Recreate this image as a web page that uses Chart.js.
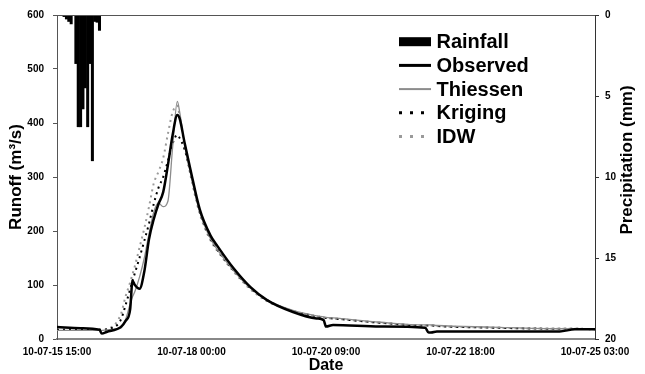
<!DOCTYPE html>
<html>
<head>
<meta charset="utf-8">
<script src="https://cdn.jsdelivr.net/npm/chart.js@4"></script>
<style>
  body { margin: 0; background: #fff; }
</style>
</head>
<body>
<canvas id="runoff_chart" width="645" height="374"></canvas>
<script>
// hours after 10-07-15 15:00
const xTickLabels = [
  "10-07-15 15:00",
  "10-07-18 00:00",
  "10-07-20 09:00",
  "10-07-22 18:00",
  "10-07-25 03:00",
];

const rainHours = [3, 4, 5, 6, 7, 8, 9, 10, 11, 12, 13, 14, 15, 16, 17, 18];
const rainMm = [0.1, 0.25, 0.4, 0.55, 0, 3.0, 6.9, 6.9, 5.8, 4.5, 6.9, 3.0, 9.0, 0.4, 0.45, 0.95];

const flowHours = [
  0, 10, 18, 19, 21, 27, 29, 31, 32, 33, 35, 37, 39, 41, 43, 45, 47, 49, 51, 52,
  54, 56.5, 60.5, 65, 68, 75, 82, 89, 100, 110, 113, 114, 117, 137, 156, 157.5,
  158.5, 161, 184, 213, 219.5, 228,
];
const observed = [
  22, 20, 17, 10, 13, 22, 33, 55, 108, 100, 93, 125, 185, 222, 250, 272, 322, 378, 415, 408,
  365, 315, 240, 192, 172, 130, 96, 72, 50, 38, 35, 23, 26, 23, 21, 12,
  12, 14, 14, 14, 18, 18,
];
const thiessen = [
  16, 16, 16, 16, 17, 20, 35, 65, 78, 88, 115, 150, 195, 235, 252, 245, 255, 355, 440, 420,
  362, 308, 235, 186, 165, 126, 94, 72, 53, 43, 41, 40, 39, 31, 26, 26,
  26, 25, 22, 19, 19, 18,
];
const kriging = [
  17, 17, 17, 17, 18, 35, 62, 92, 108, 122, 151, 182, 214, 250, 280, 300, 330, 362, 378, 372,
  352, 310, 236, 186, 165, 126, 94, 72, 52, 42, 40, 39, 38, 30, 25, 25,
  25, 24, 21, 19, 19, 18,
];
const idw = [
  17, 17, 17, 17, 18, 45, 78, 105, 120, 135, 170, 205, 245, 288, 310, 335, 380, 420, 432, 412,
  360, 305, 232, 183, 163, 124, 92, 70, 52, 42, 40, 39, 38, 30, 25, 25,
  25, 24, 21, 19, 19, 18,
];

const pts = (xs, ys) => xs.map((x, i) => ({ x: x, y: ys[i] }));

const legendStyle = [
  { kind: "box" },
  { kind: "line", color: "#000", width: 3, dash: [] },
  { kind: "line", color: "#8c8c8c", width: 2, dash: [] },
  { kind: "line", color: "#000", width: 3, dash: [3, 8] },
  { kind: "line", color: "#9a9a9a", width: 3, dash: [3, 8] },
];

const boxLegend = {
  id: "boxLegend",
  afterDraw(chart) {
    const c = chart.ctx;
    c.save();
    c.font = "bold 20px 'Liberation Sans', Arial, sans-serif";
    c.textBaseline = "middle";
    c.fillStyle = "#000";
    chart.data.datasets.forEach((ds, i) => {
      const y = 41.7 + i * 23.7;
      const st = legendStyle[i];
      if (st.kind === "box") {
        c.fillRect(399, y - 4.5, 32, 9);
      } else {
        c.beginPath();
        c.setLineDash(st.dash);
        c.strokeStyle = st.color;
        c.lineWidth = st.width;
        c.moveTo(399, y);
        c.lineTo(431, y);
        c.stroke();
        c.setLineDash([]);
      }
      c.fillText(ds.label, 436.5, y + 1);
    });
    // right axis title, reading bottom to top
    c.translate(627, 160);
    c.rotate(-Math.PI / 2);
    c.font = "bold 17px 'Liberation Sans', Arial, sans-serif";
    c.textAlign = "center";
    c.fillText("Precipitation (mm)", 0, 0);
    c.restore();
    // top border of plot
    const a = chart.chartArea;
    c.save();
    c.strokeStyle = "#555";
    c.lineWidth = 1;
    c.beginPath();
    c.moveTo(a.left, a.top + 0.5);
    c.lineTo(a.right, a.top + 0.5);
    c.stroke();
    c.restore();
  },
};

const tickFont = { family: "'Liberation Sans', Arial, sans-serif", size: 10, weight: "bold" };

const lineBase = { pointRadius: 0, yAxisID: "y", cubicInterpolationMode: "monotone" };

let ctx = document.getElementById("runoff_chart");
new Chart(ctx, {
  data: {
    datasets: [
      {
        type: "bar",
        label: "Rainfall",
        data: pts(rainHours, rainMm),
        yAxisID: "y2",
        backgroundColor: "#000",
        barPercentage: 1,
        categoryPercentage: 1,
      },
      {
        ...lineBase,
        type: "line",
        label: "Observed",
        data: pts(flowHours, observed),
        borderColor: "#000",
        borderWidth: 2.5,
      },
      {
        ...lineBase,
        type: "line",
        label: "Thiessen",
        data: pts(flowHours, thiessen),
        borderColor: "#8c8c8c",
        borderWidth: 1.3,
      },
      {
        ...lineBase,
        type: "line",
        label: "Kriging",
        data: pts(flowHours, kriging),
        borderColor: "#000",
        borderWidth: 2,
        borderDash: [2, 4],
      },
      {
        ...lineBase,
        type: "line",
        label: "IDW",
        data: pts(flowHours, idw),
        borderColor: "#9a9a9a",
        borderWidth: 2,
        borderDash: [2, 4],
      },
    ],
  },
  options: {
    responsive: false,
    animation: false,
    devicePixelRatio: 1,
    layout: { padding: { top: 13, left: 0, right: 0, bottom: 0 } },
    plugins: {
      legend: { display: false },
      tooltip: { enabled: false },
    },
    scales: {
      x: {
        type: "linear",
        min: 0,
        max: 228,
        offset: false,
        grid: { display: false, drawTicks: false, offset: false },
        border: { display: true, color: "#888", width: 2 },
        ticks: {
          stepSize: 57,
          padding: 7,
          maxRotation: 0,
          autoSkip: false,
          color: "#000",
          font: { family: "'Liberation Sans', Arial, sans-serif", size: 10, weight: "bold" },
          callback: (v) => (v % 57 === 0 ? xTickLabels[v / 57] : ""),
        },
        title: {
          display: true,
          text: "Date",
          color: "#000",
          padding: { top: 0, bottom: 0 },
          font: { family: "'Liberation Sans', Arial, sans-serif", size: 16, weight: "bold", lineHeight: 1 },
        },
        afterFit: (s) => { s.height = 35; },
      },
      y: {
        position: "left",
        min: 0,
        max: 600,
        grid: { drawOnChartArea: false, tickLength: 4, color: "#555" },
        border: { color: "#555", width: 1 },
        ticks: { stepSize: 100, padding: 9, color: "#000", font: tickFont },
        title: {
          display: true,
          text: "Runoff (m³/s)",
          color: "#000",
          padding: { top: 8, bottom: 0 },
          font: { family: "'Liberation Sans', Arial, sans-serif", size: 17, weight: "bold", lineHeight: 1 },
        },
        afterFit: (s) => { s.width = 57; },
      },
      y2: {
        position: "right",
        min: 0,
        max: 20,
        reverse: true,
        grid: { drawOnChartArea: false, tickLength: 4, color: "#333" },
        border: { color: "#333", width: 1 },
        ticks: { stepSize: 5, padding: 6, color: "#000", font: tickFont },
        afterFit: (s) => { s.width = 50; },
      },
    },
  },
  plugins: [boxLegend],
});
</script>
</body>
</html>
